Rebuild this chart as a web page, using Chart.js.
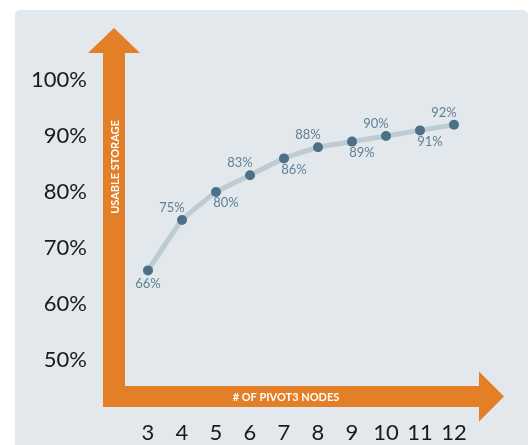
<!DOCTYPE html>
<html>
<head>
<meta charset="utf-8">
<script src="https://cdn.jsdelivr.net/npm/chart.js@4"></script>
<style>
  html, body { margin: 0; padding: 0; background: #fff; overflow: hidden; }
  #panel { position: absolute; left: 15px; top: 10px; width: 513px; height: 450px; background: #e3e8ec; border-radius: 5px; }
  #wrap { position: absolute; left: 0; top: 0; width: 532px; height: 445px; }
</style>
</head>
<body>
<div id="panel"></div>
<div id="wrap"><canvas id="lineChart"></canvas></div>
<script>
const nodes = ['3', '4', '5', '6', '7', '8', '9', '10', '11', '12'];
const usable = [66, 75, 80, 83, 86, 88, 89, 90, 91, 92];
const yTicks = [50, 60, 70, 80, 90, 100];

const orange = '#e27f27';

// arrows + axis titles + point labels
const arrowsPlugin = {
    id: 'arrows',
    beforeDatasetsDraw(chart) {
        const ctx = chart.ctx, a = chart.chartArea;
        const x0 = a.left - 45, x1 = a.left - 23;
        const yb0 = a.bottom + 26, yb1 = a.bottom + 47;
        const cx = (x0 + x1) / 2, cy = (yb0 + yb1) / 2;
        ctx.save();
        ctx.fillStyle = orange;
        // vertical shaft + head
        ctx.fillRect(x0, a.top - 27, x1 - x0, yb1 - (a.top - 27));
        ctx.beginPath();
        ctx.moveTo(cx - 26, a.top - 27);
        ctx.lineTo(cx, a.top - 52);
        ctx.lineTo(cx + 26, a.top - 27);
        ctx.closePath();
        ctx.fill();
        // horizontal shaft + head
        ctx.fillRect(x0, yb0, a.right + 26 - x0, yb1 - yb0);
        ctx.beginPath();
        ctx.moveTo(a.right + 25, cy - 25);
        ctx.lineTo(a.right + 50, cy);
        ctx.lineTo(a.right + 25, cy + 25);
        ctx.closePath();
        ctx.fill();

        ctx.fillStyle = '#ffffff';
        ctx.font = 'bold 11px Lato';
        ctx.textAlign = 'center';
        ctx.textBaseline = 'middle';
        ctx.fillText('# OF PIVOT3 NODES', 286, cy + 1);
        ctx.translate(cx + 1, 167);
        ctx.rotate(-Math.PI / 2);
        ctx.fillText('USABLE STORAGE', 0, 0);
        ctx.restore();
    },
    afterDatasetsDraw(chart) {
        const ctx = chart.ctx;
        const meta = chart.getDatasetMeta(0);
        ctx.save();
        ctx.fillStyle = '#5f7f95';
        ctx.font = '13px Lato';
        ctx.textAlign = 'center';
        ctx.textBaseline = 'middle';
        meta.data.forEach((pt, i) => {
            let dx = 0, dy = 13;
            if (i > 0) {
                const up = i % 2 === 1;
                dy = up ? -12 : 11;
                dx = up ? -10 : 10;
            }
            ctx.fillText(usable[i] + '%', pt.x + dx, pt.y + dy);
        });
        ctx.restore();
    }
};

const ctx = document.getElementById('lineChart').getContext('2d');
new Chart(ctx, {
    type: 'line',
    data: {
        labels: nodes,
        datasets: [{
            label: 'Usable Storage',
            data: usable,
            borderColor: '#bccbd4',
            borderWidth: 5,
            pointBackgroundColor: '#4b7087',
            pointBorderColor: '#4b7087',
            pointRadius: 5,
            pointBorderWidth: 0,
            tension: 0.1,
            fill: false
        }]
    },
    options: {
        responsive: true,
        maintainAspectRatio: false,
        animation: false,
        layout: { padding: { left: 0, right: 78, top: 80, bottom: 0 } },
        plugins: { legend: { display: false }, tooltip: { enabled: false } },
        scales: {
            x: {
                offset: false,
                grid: { display: false, drawTicks: false },
                border: { display: false },
                ticks: { color: '#1a1a1a', font: { family: 'Lato', size: 22 }, padding: 60, maxRotation: 0, autoSkip: false },
                afterFit: s => { s.height = 85; }
            },
            y: {
                min: 50,
                max: 100,
                grid: { display: false, drawTicks: false },
                border: { display: false },
                afterBuildTicks: s => { s.ticks = yTicks.map(v => ({ value: v })); },
                ticks: { color: '#1a1a1a', font: { family: 'Lato', size: 22 }, padding: 61, callback: v => v + '%' },
                afterFit: s => { s.width = 148; }
            }
        }
    },
    plugins: [arrowsPlugin]
});
</script>
</body>
</html>
